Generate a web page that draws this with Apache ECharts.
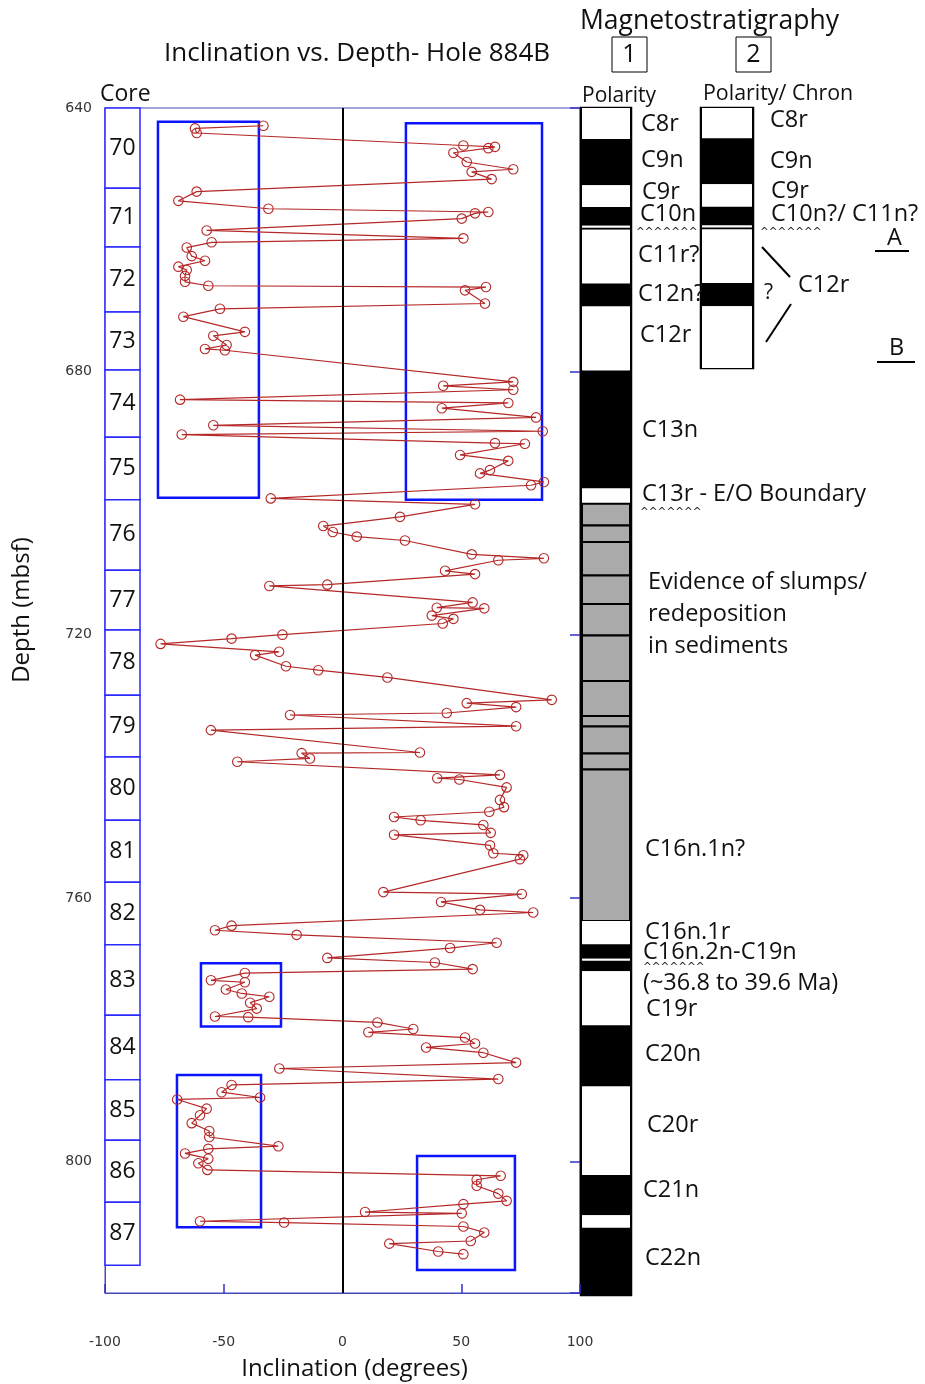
<!DOCTYPE html>
<html><head><meta charset="utf-8">
<script src="https://cdn.jsdelivr.net/npm/echarts@6/dist/echarts.min.js"></script>
<style>html,body{margin:0;padding:0;background:#fff}#c{width:925px;height:1384px}</style>
</head><body><div id="c"></div>
<script>
// ---- data ----
const depths = [642.7,643.1,643.8,645.7,645.9,646.1,646.8,648.2,649.3,649.7,
650.8,652.7,654.1,655.3,655.8,656.0,656.8,658.6,659.8,660.4,
661.2,662.5,663.2,664.1,664.6,665.5,666.4,667.0,667.2,667.7,
669.7,670.5,671.7,674.0,674.6,676.0,676.6,676.8,681.6,682.2,
682.8,684.3,684.8,685.6,687.0,688.2,689.1,689.6,690.9,691.0,
692.7,693.6,695.0,695.5,696.8,697.3,699.3,700.2,702.1,703.5,
704.4,705.1,705.7,707.8,708.4,708.7,710.3,710.8,712.4,712.6,
715.1,715.9,716.0,717.1,717.6,718.3,720.0,720.6,721.4,722.6,
723.1,724.8,725.4,726.5,729.9,730.4,731.0,731.9,732.2,733.9,
734.5,737.9,738.0,738.8,739.3,741.3,741.8,742.0,743.2,745.1,
746.2,746.9,747.7,748.2,748.9,750.1,750.4,752.0,753.2,753.5,
754.1,759.1,759.4,760.6,761.8,762.2,764.2,764.9,765.6,766.8,
767.6,769.1,769.8,770.8,771.4,772.5,772.8,773.9,774.5,775.0,
775.9,776.8,778.0,778.1,778.9,779.9,780.4,781.2,782.1,782.7,
783.5,785.0,785.9,787.5,788.4,789.5,790.3,790.6,792.0,793.0,
794.2,795.4,796.3,797.7,798.1,798.8,799.6,800.3,801.3,802.2,
802.8,803.7,804.9,806.0,806.5,807.7,807.9,809.1,809.3,809.9,
810.8,812.1,812.5,813.7,814.1];
const inclinations = [-33.3,-62.1,-61.4,50.9,64.2,61.4,46.7,52.3,71.9,54.4,
62.8,-61.4,-69.1,-31.2,61.4,55.8,50.2,-57.2,50.9,-55.1,
-65.6,-63.5,-57.9,-69.1,-65.6,-66.3,-66.3,-56.5,60.4,51.6,
60.0,-51.6,-67.0,-41.1,-54.4,-48.8,-57.9,-49.5,71.9,42.4,
71.9,-68.4,69.8,41.8,81.5,-54.4,84.3,-67.7,64.2,76.8,
49.5,69.8,62.1,57.9,84.8,79.4,-30.2,55.8,24.2,-8.1,
-4.1,6.0,26.3,54.4,84.8,65.6,43.2,55.8,-6.4,-30.8,
54.8,39.7,59.7,37.6,46.7,42.2,-25.3,-46.7,-76.6,-26.7,
-36.8,-23.8,-10.2,18.9,88.1,52.3,73.1,43.9,-22.1,73.1,
-55.4,32.6,-17.2,-13.7,-44.3,66.3,39.9,49.2,69.1,66.3,
68.0,61.8,21.7,32.9,59.3,62.4,21.7,62.1,63.5,76.1,
74.7,17.2,75.5,41.5,57.9,80.3,-46.7,-53.7,-19.3,64.9,
45.3,-6.4,38.9,54.8,-41.1,-55.4,-41.1,-49.1,-42.4,-30.8,
-38.9,-36.1,-53.7,-39.7,14.7,29.8,10.9,51.6,55.8,35.2,
59.3,73.1,-26.6,65.6,-46.7,-50.9,-34.7,-69.6,-57.2,-60.0,
-63.5,-56.1,-56.1,-27.0,-56.5,-66.3,-56.5,-60.7,-56.9,66.6,
56.5,56.5,65.6,69.1,50.9,9.5,50.2,-60.0,-24.6,50.9,
59.7,54.0,19.7,40.3,50.9];

const coreNames = ['70','71','72','73','74','75','76','77','78','79','80','81','82','83','84','85','86','87'];
const coreBounds = [640,652.2,661.1,671.0,679.8,690.0,699.5,710.2,719.3,729.2,738.6,748.2,757.6,767.1,777.8,787.6,796.8,806.2,815.8];

// highlight boxes: [minInc, topDepth, maxInc, bottomDepth]
const highlightBoxes = [
  [-77.7,642.1,-35.2,699.2],
  [26.7,642.3,84.0,699.5],
  [-59.6,769.9,-25.9,779.5],
  [-69.7,786.9,-34.3,810.0],
  [31.4,799.2,72.6,816.5]
];

// polarity columns: [top, bottom, kind]  n = normal(black), r = reversed(white), g = uncertain(gray)
const polarity1 = [
  [640,644.7,'r'],[644.7,651.7,'n'],[651.7,655.0,'r'],[655.0,657.85,'n'],[657.85,658.15,'r'],
  [658.15,658.45,'n'],[658.45,666.6,'r'],[666.6,670.1,'n'],[670.1,679.8,'r'],[679.8,697.7,'n'],
  [697.7,700.0,'r'],[700.0,703.3,'g'],[703.3,705.8,'g'],[705.8,710.9,'g'],[710.9,715.2,'g'],
  [715.2,720.0,'g'],[720.0,726.9,'g'],[726.9,732.2,'g'],[732.2,733.8,'g'],[733.8,737.9,'g'],
  [737.9,740.3,'g'],[740.3,763.3,'g'],[763.3,766.8,'r'],[766.8,769.0,'n'],[769.0,769.3,'r'],
  [769.3,770.9,'n'],[770.9,779.1,'r'],[779.1,788.4,'n'],[788.4,801.8,'r'],[801.8,807.9,'n'],
  [807.9,809.8,'r'],[809.8,820,'n']
];
const polarity2 = [
  [640,644.6,'r'],[644.6,651.6,'n'],[651.6,655.0,'r'],[655.0,657.85,'n'],[657.85,658.15,'r'],
  [658.15,658.45,'n'],[658.45,666.6,'r'],[666.6,670.1,'n'],[670.1,679.5,'r']
];

// ---- chart ----
const RED = '#b52828';
const BLUE = '#0a14ff';
const FONT = '"Open Sans"';
const LBL = 23.5;
const chart = echarts.init(document.getElementById('c'), null, {renderer:'canvas'});

function polRender(params, api){
  const top = api.value(0), bot = api.value(1), kind = api.value(2);
  const p1 = api.coord([0, top]), p2 = api.coord([1, bot]);
  const fill = kind === 'n' ? '#000' : (kind === 'g' ? '#aaaaaa' : '#fff');
  return {type:'rect', shape:{x:p1[0]+1, y:p1[1], width:p2[0]-p1[0]-2, height:p2[1]-p1[1]},
    style:{fill: fill, stroke: kind === 'g' ? '#000' : null, lineWidth: kind === 'g' ? 2 : 0}};
}

function txt(text, x, y, size, opt){
  opt = opt || {};
  return {type:'text', x:x, y:y, rotation: opt.rotation || 0, z: 1,
    style:{text:text, font: size + 'px ' + (opt.family || FONT), fill: opt.color || '#111',
      textAlign: opt.align || 'left', align: opt.align || 'left',
      textVerticalAlign:'middle', verticalAlign:'middle'}};
}
function seg(x1,y1,x2,y2,w){
  return {type:'line', z:1, shape:{x1:x1,y1:y1,x2:x2,y2:y2}, style:{stroke:'#000', lineWidth:w||2}};
}
const carets = '^^^^^^^';
const caretOpt = {family:'"DejaVu Sans"', color:'#222'};

const graphics = [
  txt('Magnetostratigraphy', 580, 21, 26.5),
  txt('Inclination vs. Depth- Hole 884B', 164, 54, 26),
  {type:'rect', z:1, shape:{x:612,y:37,width:35,height:35}, style:{fill:null, stroke:'#000', lineWidth:1}},
  {type:'rect', z:1, shape:{x:736,y:37,width:35,height:35}, style:{fill:null, stroke:'#000', lineWidth:1}},
  txt('1', 629.5, 55, 25, {align:'center'}),
  txt('2', 753.5, 55, 25, {align:'center'}),
  txt('Core', 100, 94, 23),
  txt('Polarity', 582, 96, 21),
  txt('Polarity/ Chron', 703, 94, 21.4),
  txt('Depth (mbsf)', 22, 610, 24, {align:'center', rotation: Math.PI/2}),
  // column 1 labels
  txt('C8r', 641, 124, LBL),
  txt('C9n', 641, 160, LBL),
  txt('C9r', 642, 192, LBL),
  txt('C10n', 640, 214, LBL),
  txt(carets, 636, 232, 10.5, caretOpt),
  txt('C11r?', 638, 255, LBL),
  txt('C12n?', 638, 294, LBL),
  txt('C12r', 640, 335, LBL),
  txt('C13n', 642, 430, LBL),
  txt('C13r - E/O Boundary', 642, 494, LBL),
  txt(carets, 640, 512, 10.5, caretOpt),
  txt('Evidence of slumps/', 648, 582, LBL),
  txt('redeposition', 648, 614, LBL),
  txt('in sediments', 648, 646, LBL),
  txt('C16n.1n?', 645, 849, LBL),
  txt('C16n.1r', 645, 932, LBL),
  txt('C16n.2n-C19n', 643, 952, LBL),
  txt(carets, 643, 967, 10.5, caretOpt),
  txt('(~36.8 to 39.6 Ma)', 643, 983, LBL),
  txt('C19r', 646, 1009, LBL),
  txt('C20n', 645, 1054, LBL),
  txt('C20r', 647, 1125, LBL),
  txt('C21n', 643, 1190, LBL),
  txt('C22n', 645, 1258, LBL),
  // column 2 labels
  txt('C8r', 770, 120, LBL),
  txt('C9n', 770, 161, LBL),
  txt('C9r', 771, 191, LBL),
  txt('C10n?/ C11n?', 771, 214, LBL),
  txt(carets, 760, 232, 10.5, caretOpt),
  txt('?', 764, 293, 21),
  txt('C12r', 798, 285, LBL),
  seg(762,247,790,277), seg(791,304,766,342),
  txt('A', 887, 238, LBL),
  seg(875,251,909,251),
  txt('B', 889, 348, LBL),
  seg(877,362,915,362)
];

const option = {
  animation:false,
  backgroundColor:'#fff',
  grid:[
    {left:105, top:108, width:475, height:1185, show:true, borderColor:'#4848b8', borderWidth:1, backgroundColor:'rgba(0,0,0,0)', outerBoundsMode:'none', containLabel:false},
    {left:105, top:108, width:35, height:1185, outerBoundsMode:'none'},
    {left:581, top:108, width:50, height:1187, show:true, borderColor:'#000', borderWidth:2.5, backgroundColor:'rgba(0,0,0,0)', outerBoundsMode:'none'},
    {left:701, top:108, width:52, height:260, show:true, borderColor:'#000', borderWidth:2.5, backgroundColor:'rgba(0,0,0,0)', outerBoundsMode:'none'}
  ],
  xAxis:[
    {gridIndex:0, type:'value', min:-100, max:100, interval:50,
     axisLine:{show:true, onZero:false, lineStyle:{color:'#4848b8', width:1}},
     axisTick:{show:true, inside:true, length:9, lineStyle:{color:'#3030c8', width:1.5}},
     axisLabel:{margin:42, color:'#333', fontFamily:'DejaVu Sans', fontSize:14},
     splitLine:{show:false},
     name:'Inclination (degrees)', nameLocation:'middle', nameGap:64,
     nameTextStyle:{fontFamily:'Open Sans', fontSize:24, color:'#111', padding:[0,0,0,24]}},
    {gridIndex:1, type:'value', min:0, max:1, show:false},
    {gridIndex:2, type:'value', min:0, max:1, show:false},
    {gridIndex:3, type:'value', min:0, max:1, show:false}
  ],
  yAxis:[
    {gridIndex:0, type:'value', min:640, max:820, interval:40, inverse:true,
     axisLine:{show:true, onZero:false, lineStyle:{color:'#4848b8', width:1}},
     axisTick:{show:false},
     axisLabel:{margin:13, color:'#333', fontFamily:'DejaVu Sans', fontSize:14, showMaxLabel:false},
     splitLine:{show:false}},
    {gridIndex:0, type:'value', min:640, max:820, interval:40, inverse:true, position:'right',
     axisLine:{show:false, onZero:false}, axisLabel:{show:false}, splitLine:{show:false},
     axisTick:{show:true, inside:true, length:10, lineStyle:{color:'#3030c8', width:1.5}}},
    {gridIndex:1, type:'value', min:640, max:820, inverse:true, show:false},
    {gridIndex:2, type:'value', min:640, max:820, inverse:true, show:false},
    {gridIndex:3, type:'value', min:640, max:679.5, inverse:true, show:false}
  ],
  graphic: graphics,
  series:[
    {type:'line', name:'Inclination', xAxisIndex:0, yAxisIndex:0, z:3,
     data: depths.map((d,i)=>[inclinations[i], d]),
     showAllSymbol:true, symbol:'circle', symbolSize:9.5,
     lineStyle:{color:RED, width:1.2},
     itemStyle:{color:'rgba(255,255,255,0)', borderColor:RED, borderWidth:1.1},
     emphasis:{disabled:true}},
    {type:'scatter', name:'refs', xAxisIndex:0, yAxisIndex:0, z:6, data:[], silent:true,
     markLine:{silent:true, symbol:'none', label:{show:false},
       lineStyle:{color:'#000', width:2, type:'solid'}, data:[{xAxis:0}]},
     markArea:{silent:true, label:{show:false},
       itemStyle:{color:'rgba(0,0,0,0)', borderColor:BLUE, borderWidth:2.5},
       data: highlightBoxes.map(b=>[{coord:[b[0],b[1]]},{coord:[b[2],b[3]]}])}},
    {type:'custom', name:'Cores', xAxisIndex:1, yAxisIndex:2, z:4,
     data: coreNames.map((n,i)=>[coreBounds[i], coreBounds[i+1], n]),
     renderItem:(params, api)=>{
       const p1 = api.coord([0, api.value(0)]), p2 = api.coord([1, api.value(1)]);
       return {type:'group', children:[
         {type:'rect', shape:{x:p1[0], y:p1[1], width:p2[0]-p1[0], height:p2[1]-p1[1]},
          style:{fill:'#fff', stroke:'#2a2aff', lineWidth:1.5}},
         {type:'text', style:{text: coreNames[params.dataIndex], x:(p1[0]+p2[0])/2, y:(p1[1]+p2[1])/2,
          font:'23px "Open Sans"', fill:'#111', textAlign:'center', align:'center',
          textVerticalAlign:'middle', verticalAlign:'middle'}}
       ]};
     }},
    {type:'custom', name:'Polarity 1', xAxisIndex:2, yAxisIndex:3, z:2,
     data: polarity1, renderItem: polRender},
    {type:'custom', name:'Polarity 2', xAxisIndex:3, yAxisIndex:4, z:2,
     data: polarity2, renderItem: polRender}
  ]
};
chart.setOption(option);
</script>
</body></html>
